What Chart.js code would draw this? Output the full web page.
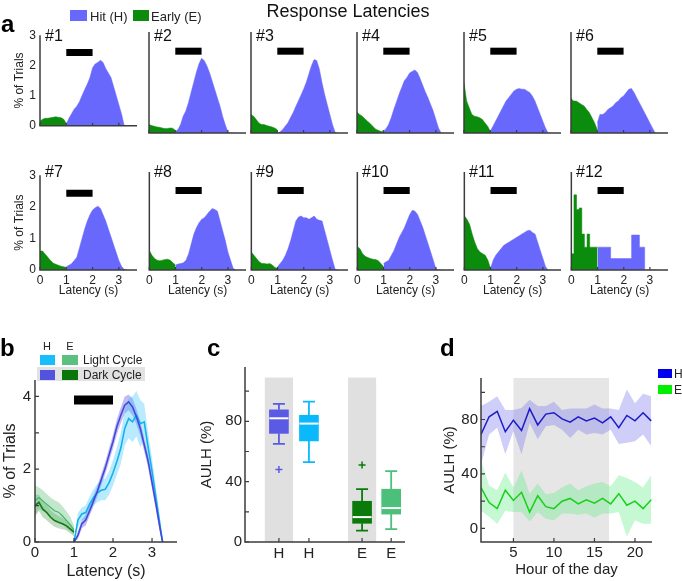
<!DOCTYPE html>
<html><head><meta charset="utf-8">
<script src="https://cdn.jsdelivr.net/npm/chart.js@4.4.1/dist/chart.umd.min.js"></script>
<style>
body{margin:0;background:#fff;font-family:"Liberation Sans",Arial,sans-serif;color:#222}
#fig{position:relative;width:682px;height:581px;overflow:hidden;background:#fff}
.box{position:absolute}
.t{position:absolute;white-space:nowrap;line-height:1;transform:translateY(-50%);z-index:6}
.sw{position:absolute;z-index:5}
</style></head><body><div id="fig"></div>
<script>
// ---- panel a: response latency histograms (12 sessions) ----
const earlyX = [0, 0.1, 0.2, 0.3, 0.4, 0.5, 0.6, 0.7, 0.8, 0.9, 1.0];
const hitX = [1.0, 1.1, 1.2, 1.3, 1.4, 1.5, 1.6, 1.7, 1.8, 1.9, 2.0, 2.1, 2.2, 2.3, 2.4, 2.5, 2.6, 2.7, 2.8, 2.9, 3.0, 3.1, 3.2, 3.3];
const panelNames = ['#1', '#2', '#3', '#4', '#5', '#6', '#7', '#8', '#9', '#10', '#11', '#12'];
const earlyA = [
  [0.15, 0.22, 0.25, 0.25, 0.27, 0.28, 0.3, 0.28, 0.27, 0.22, 0.08],
  [0.25, 0.22, 0.2, 0.18, 0.17, 0.15, 0.13, 0.13, 0.15, 0.14, 0.08],
  [0.55, 0.5, 0.4, 0.3, 0.25, 0.25, 0.22, 0.2, 0.18, 0.15, 0.1],
  [0.62, 0.55, 0.5, 0.42, 0.35, 0.28, 0.2, 0.12, 0.08, 0.05, 0.03],
  [1.5, 0.95, 0.75, 0.55, 0.5, 0.48, 0.45, 0.4, 0.3, 0.2, 0.05],
  [1.02, 0.95, 0.95, 0.9, 0.85, 0.8, 0.7, 0.6, 0.45, 0.3, 0.1],
  [0.6, 0.6, 0.5, 0.4, 0.3, 0.22, 0.18, 0.15, 0.12, 0.1, 0.08],
  [0.6, 0.45, 0.35, 0.3, 0.28, 0.3, 0.32, 0.33, 0.3, 0.22, 0.15],
  [0.55, 0.45, 0.35, 0.25, 0.2, 0.2, 0.18, 0.2, 0.15, 0.08, 0.05],
  [0.72, 0.65, 0.5, 0.42, 0.38, 0.35, 0.33, 0.32, 0.28, 0.2, 0.1],
  [1.66, 1.55, 1.4, 1.1, 0.85, 0.65, 0.55, 0.5, 0.45, 0.3, 0.05],
  [0.5, 2.3, 1.85, 1.9, 1.1, 0.7, 1.1, 0.7, 0.7, 0.7, 0.7]
];
const hitA = [
  [0.05, 0.25, 0.4, 0.55, 0.65, 0.8, 1.0, 1.2, 1.38, 1.6, 1.92, 2.05, 2.1, 2.17, 2.1, 1.9, 1.75, 1.6, 1.3, 1.0, 0.7, 0.4, 0.02, 0],
  [0.05, 0.1, 0.25, 0.5, 0.65, 0.9, 1.2, 1.5, 1.8, 2.05, 2.22, 2.15, 2.0, 1.8, 1.55, 1.3, 1.05, 0.8, 0.5, 0.25, 0.03, 0, 0, 0],
  [0, 0.03, 0.1, 0.2, 0.3, 0.45, 0.6, 0.78, 0.95, 1.12, 1.3, 1.5, 1.75, 2.0, 2.18, 2.15, 1.9, 1.5, 1.15, 0.85, 0.55, 0.25, 0.02, 0],
  [0.05, 0.12, 0.25, 0.45, 0.7, 0.92, 1.15, 1.35, 1.55, 1.65, 1.78, 1.83, 1.87, 1.8, 1.62, 1.42, 1.22, 1.05, 0.85, 0.65, 0.4, 0.15, 0, 0],
  [0.05, 0.2, 0.35, 0.5, 0.65, 0.8, 0.95, 1.05, 1.15, 1.25, 1.3, 1.32, 1.3, 1.3, 1.25, 1.2, 1.1, 0.95, 0.75, 0.55, 0.35, 0.15, 0, 0],
  [0.3, 0.55, 0.55, 0.6, 0.7, 0.75, 0.8, 0.9, 0.95, 1.05, 1.1, 1.2, 1.3, 1.32, 1.2, 1.05, 0.9, 0.75, 0.6, 0.45, 0.3, 0.15, 0, 0],
  [0.1, 0.15, 0.2, 0.3, 0.4, 0.7, 1.0, 1.3, 1.55, 1.75, 1.9, 1.97, 2.02, 1.95, 1.75, 1.55, 1.3, 1.05, 0.8, 0.55, 0.3, 0.12, 0.02, 0],
  [0.15, 0.18, 0.2, 0.22, 0.3, 0.5, 0.8, 1.1, 1.3, 1.45, 1.55, 1.6, 1.7, 1.8, 1.88, 1.85, 1.8, 1.5, 1.2, 0.9, 0.55, 0.3, 0.05, 0],
  [0.1, 0.2, 0.3, 0.45, 0.65, 0.9, 1.2, 1.5, 1.62, 1.65, 1.6, 1.6, 1.55, 1.6, 1.65, 1.55, 1.52, 1.5, 1.2, 0.9, 0.6, 0.3, 0.02, 0],
  [0.2, 0.25, 0.3, 0.45, 0.6, 0.8, 1.0, 1.15, 1.3, 1.5, 1.7, 1.83, 1.8, 1.7, 1.5, 1.3, 1.05, 0.8, 0.55, 0.3, 0.03, 0, 0, 0],
  [0.05, 0.3, 0.45, 0.55, 0.65, 0.75, 0.8, 0.85, 0.9, 0.95, 1.0, 1.05, 1.1, 1.15, 1.2, 1.22, 1.15, 1.1, 0.85, 0.6, 0.35, 0.1, 0, 0],
  [0.7, 0.7, 0.7, 0.7, 0.7, 0.35, 0.35, 0.35, 0.35, 0.35, 0.35, 0.35, 0.35, 1.07, 1.07, 1.07, 0.7, 0.7, 0, 0, 0, 0, 0, 0]
];
const cueX = [1, 2];          // response window bar (s)
const cueYA = 2.43;
const latencyTicks = [0, 1, 2, 3];
const trialTicksA = [0, 1, 2, 3];

// ---- panel b: light vs dark cycle ----
const bEarlyX = [0, 0.1, 0.2, 0.3, 0.4, 0.5, 0.6, 0.7, 0.8, 0.9, 1.0];
const bHitX = [1.0, 1.1, 1.2, 1.3, 1.4, 1.5, 1.6, 1.7, 1.8, 1.9, 2.0, 2.1, 2.2, 2.3, 2.4, 2.5, 2.6, 2.7, 2.8, 2.9, 3.0, 3.1, 3.2, 3.27];
const hitDark = [0, 0.18, 0.5, 0.6, 0.86, 1.13, 1.4, 1.72, 2.03, 2.4, 2.76, 3.17, 3.48, 3.76, 3.85, 3.71, 3.44, 3.12, 2.67, 2.22, 1.63, 1.04, 0.41, 0];
const hitDarkUp = [0, 0.3, 0.62, 0.75, 1.0, 1.28, 1.55, 1.88, 2.2, 2.58, 2.95, 3.38, 3.7, 4.0, 4.05, 3.95, 3.65, 3.3, 2.85, 2.4, 1.8, 1.2, 0.55, 0];
const hitDarkLo = [0, 0.08, 0.38, 0.45, 0.72, 0.98, 1.25, 1.56, 1.86, 2.22, 2.57, 2.96, 3.26, 3.52, 3.62, 3.48, 3.22, 2.92, 2.48, 2.04, 1.46, 0.88, 0.28, 0];
const hitLight = [0, 0.6, 0.77, 0.81, 1.04, 1.22, 1.35, 1.42, 1.45, 1.63, 1.9, 2.22, 2.58, 3.12, 3.39, 3.3, 3.48, 3.25, 3.3, 2.6, 1.95, 1.22, 0.5, 0];
const hitLightUp = [0, 0.8, 0.95, 1.0, 1.25, 1.45, 1.6, 1.7, 1.75, 1.95, 2.25, 2.6, 3.0, 3.6, 3.95, 4.0, 4.15, 3.9, 3.8, 3.0, 2.3, 1.5, 0.7, 0];
const hitLightLo = [0, 0.4, 0.6, 0.62, 0.83, 1.0, 1.1, 1.15, 1.15, 1.3, 1.55, 1.85, 2.15, 2.65, 2.85, 2.75, 2.9, 2.6, 2.85, 2.2, 1.6, 0.95, 0.3, 0];
const earlyDark = [1.0, 1.09, 0.9, 0.81, 0.68, 0.59, 0.54, 0.5, 0.45, 0.36, 0.27];
const earlyDarkUp = [1.3, 1.3, 1.12, 1.02, 0.88, 0.78, 0.72, 0.66, 0.6, 0.5, 0.38];
const earlyDarkLo = [0.7, 0.85, 0.68, 0.6, 0.5, 0.42, 0.38, 0.35, 0.32, 0.24, 0.16];
const earlyLight = [1.13, 1.22, 1.13, 1.04, 0.95, 0.86, 0.82, 0.72, 0.6, 0.48, 0.32];
const earlyLightUp = [1.55, 1.5, 1.42, 1.32, 1.22, 1.15, 1.1, 0.98, 0.85, 0.7, 0.45];
const earlyLightLo = [0.75, 0.9, 0.85, 0.78, 0.7, 0.6, 0.55, 0.48, 0.38, 0.3, 0.2];
const cueYB = 3.9;
const trialTicksB = [0, 1, 2, 3, 4];
const trialLabelsB = [0, 2, 4];

// ---- panel c: AULH box plots ----
const boxPos = [1.13, 2.13, 3.9, 4.87];
const boxLabels = ['H', 'H', 'E', 'E'];
const boxLow = [65, 53, 7.5, 8.5];
const boxQ1 = [72, 67, 12.4, 18.5];
const boxMed = [82, 78.5, 16.5, 22.5];
const boxQ3 = [87.6, 84, 27, 35];
const boxHigh = [91.5, 93, 35, 47];
const outX = [1.13, 3.9];
const outY = [48, 51];
const darkShadeX = [1.13, 3.9];
const aulhTicks = [0, 20, 40, 60, 80, 100];
const aulhLabels = [0, 40, 80];

// ---- panel d: AULH by hour of day ----
const hours = [1, 2, 3, 4, 5, 6, 7, 8, 9, 10, 11, 12, 13, 14, 15, 16, 17, 18, 19, 20, 21, 22];
const hourHit = [69, 82, 86, 71, 79.5, 72, 88, 76, 84, 85, 80.5, 78, 82, 79, 81, 77.5, 82, 74, 83, 79, 85, 79];
const hourHitUp = [90, 93, 97, 87, 87, 88.5, 94.5, 90, 90, 93, 87, 88, 88, 88, 91, 88, 88, 87, 102, 92, 99, 97];
const hourHitLo = [47, 69, 74, 54.5, 71.5, 54.5, 77.5, 65.5, 75, 76, 72.5, 66.5, 72.5, 69, 70, 69, 72.5, 62, 63, 64, 69, 60.5];
const hourEarly = [30, 19, 14.5, 28, 20.5, 26.5, 12, 24, 16, 14.5, 20, 22, 18, 21, 18.5, 22, 18, 25.5, 17, 20, 14.5, 21];
const hourEarlyUp = [50, 31.5, 28, 41, 30, 42.5, 25.5, 33, 25, 26, 30, 33, 28, 31, 33, 34, 31, 39, 37, 34, 30, 39];
const hourEarlyLo = [13, 8.5, 3.5, 13, 12, 12, 5, 12, 7, 6, 11, 11, 10, 11, 8, 11, 11, 12, -6, 6, 3.5, 3.5];
const darkHours = [5, 16.8];
const hourTicks = [5, 10, 15, 20];

// ---- helpers ----
const FONT = '"Liberation Sans", Arial, sans-serif';
const fig = document.getElementById('fig');

function mount(left, top, width, height) {
  const d = document.createElement('div');
  d.className = 'box';
  Object.assign(d.style, { left: left + 'px', top: top + 'px', width: width + 'px', height: height + 'px' });
  const c = document.createElement('canvas');
  d.appendChild(c);
  fig.appendChild(d);
  return c;
}
function text(x, y, str, size, extra) {
  const s = document.createElement('div');
  s.className = 't';
  s.textContent = str;
  s.style.left = x + 'px';
  s.style.top = y + 'px';
  s.style.fontSize = size + 'px';
  if (extra) Object.assign(s.style, extra);
  fig.appendChild(s);
}
function swatch(x, y, w, h, color) {
  const s = document.createElement('div');
  s.className = 'sw';
  Object.assign(s.style, { left: x + 'px', top: y + 'px', width: w + 'px', height: h + 'px', background: color });
  fig.appendChild(s);
}
const xy = (xs, ys) => xs.map((x, i) => ({ x, y: ys[i] }));

function scale(o) {
  const horiz = o.pos === 'bottom';
  return {
    type: 'linear', position: o.pos, min: o.min, max: o.max, offset: false,
    grid: { display: false, drawTicks: false }, border: { display: false },
    ticks: {
      display: o.show !== false, autoSkip: false, maxRotation: 0, padding: o.pad ?? 3,
      color: '#222', font: { family: FONT, size: o.size || 12 },
      callback: o.cb || (v => v)
    },
    title: o.title ? { display: true, text: o.title, color: '#222', padding: 0, font: { family: FONT, size: o.tsize } } : { display: false },
    afterBuildTicks: s => { s.ticks = o.ticks.map(v => ({ value: v })); },
    afterFit: s => { if (horiz) s.height = o.fit; else s.width = o.fit; }
  };
}

// axis lines + inward MATLAB-style ticks
function frame(o) {
  return {
    id: 'frame',
    beforeDatasetsDraw(chart) { if (o.under) o.under(chart); },
    afterDatasetsDraw(chart) {
      const { ctx, chartArea: a, scales } = chart;
      ctx.save();
      if (o.over) o.over(chart);
      ctx.strokeStyle = '#3c3c3c';
      ctx.lineWidth = o.lw || 1.5;
      ctx.beginPath();
      ctx.moveTo(a.left, a.top); ctx.lineTo(a.left, a.bottom); ctx.lineTo(a.right, a.bottom);
      ctx.stroke();
      ctx.lineWidth = 1.2;
      ctx.beginPath();
      const L = o.len || 4;
      if (o.xt) scales.x.ticks.forEach(t => { const p = scales.x.getPixelForValue(t.value); ctx.moveTo(p, a.bottom); ctx.lineTo(p, a.bottom - L); });
      if (o.yt) scales.y.ticks.forEach(t => { const p = scales.y.getPixelForValue(t.value); ctx.moveTo(a.left, p); ctx.lineTo(a.left + L, p); });
      ctx.stroke();
      ctx.restore();
    }
  };
}
function line(data, color, width, extra) {
  return Object.assign({ data, borderColor: color, borderWidth: width, pointRadius: 0, fill: false, tension: 0 }, extra || {});
}
function band(data, color, fill) {
  return { data, borderColor: 'rgba(0,0,0,0)', borderWidth: 0.1, backgroundColor: color, pointRadius: 0, fill, tension: 0 };
}
const common = { responsive: true, maintainAspectRatio: false, animation: false, events: [] };

// ---- panel a ----
const A_COLS = [40, 149, 251, 357, 464, 571];
const A_ROWS = [[32, 133], [172, 270]];
const HIT_BLUE = '#6868fc', EARLY_GREEN = '#0c8c0c';

panelNames.forEach((name, i) => {
  const col = i % 6, row = Math.floor(i / 6);
  const plotL = A_COLS[col], plotT = A_ROWS[row][0], plotB = A_ROWS[row][1];
  const yW = col === 0 ? 28 : 6, xH = row === 1 ? 28 : 4;
  const cv = mount(plotL - yW, plotT - 8, yW + 97 + 6, 8 + (plotB - plotT) + xH);
  new Chart(cv, {
    type: 'line',
    data: {
      datasets: [
        line(xy(cueX, [cueYA, cueYA]), '#000', 7, { borderCapStyle: 'butt' }),
        { data: xy(earlyX, earlyA[i]), backgroundColor: EARLY_GREEN, borderColor: EARLY_GREEN, borderWidth: 0.5, pointRadius: 0, fill: 'origin', stepped: i === 11 },
        { data: xy(hitX, hitA[i]), backgroundColor: HIT_BLUE, borderColor: HIT_BLUE, borderWidth: 0.5, pointRadius: 0, fill: 'origin', stepped: i === 11 }
      ]
    },
    options: Object.assign({}, common, {
      layout: { padding: { top: 8, right: 6, left: 0, bottom: 0 } },
      plugins: { legend: { display: false }, tooltip: { enabled: false } },
      scales: {
        x: scale({ pos: 'bottom', min: 0, max: 3.69, ticks: latencyTicks, show: row === 1, fit: xH, size: 12, pad: 3,
                   title: row === 1 ? 'Latency (s)' : null, tsize: 12 }),
        y: scale({ pos: 'left', min: 0, max: 3, ticks: trialTicksA, show: col === 0, fit: yW, size: 12, pad: 4,
                   title: col === 0 ? '% of Trials' : null, tsize: 12 })
      }
    }),
    plugins: [frame({ xt: true, len: 3 })]
  });
  text(plotL + 5, row === 0 ? 36 : 172, name, 16, { color: '#111' });
});

// ---- panel b ----
{
  const cv = mount(1, 367, 184, 214);
  new Chart(cv, {
    type: 'line',
    data: {
      datasets: [
        line(xy(cueX, [cueYB, cueYB]), '#000', 9, { borderCapStyle: 'butt' }),
        line(xy(bHitX, hitDark), '#4646dc', 1.6),
        line(xy(bHitX, hitLight), '#12b2f2', 1.6),
        line(xy(bEarlyX, earlyDark), '#137a13', 1.6),
        line(xy(bEarlyX, earlyLight), '#46b46a', 1.2),
        band(xy(bHitX, hitLightUp), 'rgba(40,190,250,0.32)', '+1'),
        band(xy(bHitX, hitLightLo), 'rgba(0,0,0,0)', false),
        band(xy(bHitX, hitDarkUp), 'rgba(100,100,232,0.42)', '+1'),
        band(xy(bHitX, hitDarkLo), 'rgba(0,0,0,0)', false),
        band(xy(bEarlyX, earlyLightUp), 'rgba(80,185,110,0.35)', '+1'),
        band(xy(bEarlyX, earlyLightLo), 'rgba(0,0,0,0)', false),
        band(xy(bEarlyX, earlyDarkUp), 'rgba(30,130,40,0.28)', '+1'),
        band(xy(bEarlyX, earlyDarkLo), 'rgba(0,0,0,0)', false)
      ]
    },
    options: Object.assign({}, common, {
      layout: { padding: { top: 10, right: 8, left: 0, bottom: 0 } },
      plugins: { legend: { display: false }, tooltip: { enabled: false } },
      scales: {
        x: scale({ pos: 'bottom', min: 0, max: 3.64, ticks: latencyTicks, fit: 39, size: 15, pad: 2, title: 'Latency (s)', tsize: 16 }),
        y: scale({ pos: 'left', min: 0, max: 4.45, ticks: trialTicksB, fit: 34, size: 15, pad: 4,
                   cb: v => trialLabelsB.includes(v) ? v : '', title: '% of Trials', tsize: 16 })
      }
    }),
    plugins: [frame({ xt: true, yt: true, len: 4 })]
  });
  text(47, 345.5, 'H', 11, { transform: 'translate(-50%,-50%)' });
  text(70, 345.5, 'E', 11, { transform: 'translate(-50%,-50%)' });
  swatch(37, 367, 108, 14, '#e2e2e2');
  swatch(40, 355, 15, 10, '#18bdfc');
  swatch(62, 355, 16, 10, '#5cc080');
  swatch(40, 370, 15, 10, '#5252de');
  swatch(62, 370, 16, 10, '#0a760a');
  text(83, 360, 'Light Cycle', 12);
  text(83, 375, 'Dark Cycle', 12);
}

// ---- panel c ----
{
  const colors = ['#5a5ae4', '#0ab9fb', '#0a7a0a', '#4cbf7a'];
  const cv = mount(198, 355, 215, 209);
  new Chart(cv, {
    type: 'bar',
    data: {
      datasets: [
        { type: 'scatter', data: xy(outX, outY), pointStyle: 'cross', pointRadius: 3.5, borderWidth: 1.5,
          borderColor: [colors[0], colors[2]], backgroundColor: [colors[0], colors[2]] },
        { type: 'bar', data: boxPos.map((x, i) => ({ x, y: [boxQ1[i], boxQ3[i]] })), backgroundColor: colors,
          borderWidth: 0, barThickness: 19, borderSkipped: false }
      ]
    },
    options: Object.assign({}, common, {
      layout: { padding: { top: 10, right: 8, left: 0, bottom: 0 } },
      plugins: { legend: { display: false }, tooltip: { enabled: false } },
      scales: {
        x: scale({ pos: 'bottom', min: 0, max: 5.33, ticks: boxPos, fit: 22, size: 15, pad: 3,
                   cb: (v, i) => boxLabels[i] }),
        y: scale({ pos: 'left', min: 0, max: 116, ticks: aulhTicks, fit: 47, size: 15, pad: 3,
                   cb: v => aulhLabels.includes(v) ? v : '', title: 'AULH (%)', tsize: 15 })
      }
    }),
    plugins: [frame({
      xt: true, yt: true, len: 4,
      under(chart) {
        const { ctx, scales: { x, y } } = chart;
        ctx.save();
        ctx.fillStyle = '#e0e0e0';
        darkShadeX.forEach(c => {
          const l = x.getPixelForValue(c - 0.47), r = x.getPixelForValue(c + 0.47);
          const t = y.getPixelForValue(109), b = y.getPixelForValue(0);
          ctx.fillRect(l, t, r - l, b - t);
        });
        ctx.restore();
      },
      over(chart) {
        const { ctx, scales: { x, y } } = chart;
        boxPos.forEach((c, i) => {
          const px = x.getPixelForValue(c);
          ctx.strokeStyle = colors[i];
          ctx.lineWidth = 1.8;
          ctx.beginPath();
          ctx.moveTo(px, y.getPixelForValue(boxHigh[i])); ctx.lineTo(px, y.getPixelForValue(boxQ3[i]));
          ctx.moveTo(px, y.getPixelForValue(boxQ1[i])); ctx.lineTo(px, y.getPixelForValue(boxLow[i]));
          [boxHigh[i], boxLow[i]].forEach(v => { const py = y.getPixelForValue(v); ctx.moveTo(px - 6, py); ctx.lineTo(px + 6, py); });
          ctx.stroke();
          ctx.strokeStyle = '#fff';
          ctx.lineWidth = 2;
          ctx.beginPath();
          const pm = y.getPixelForValue(boxMed[i]);
          ctx.moveTo(px - 9.5, pm); ctx.lineTo(px + 9.5, pm);
          ctx.stroke();
        });
      }
    })]
  });
}

// ---- panel d ----
{
  const cv = mount(441, 366, 219, 213);
  new Chart(cv, {
    type: 'line',
    data: {
      datasets: [
        line(xy(hours, hourHit), '#1c1cc8', 1.5),
        line(xy(hours, hourEarly), '#18d018', 1.5),
        band(xy(hours, hourHitUp), 'rgba(125,125,240,0.38)', '+1'),
        band(xy(hours, hourHitLo), 'rgba(0,0,0,0)', false),
        band(xy(hours, hourEarlyUp), 'rgba(90,235,130,0.35)', '+1'),
        band(xy(hours, hourEarlyLo), 'rgba(0,0,0,0)', false)
      ]
    },
    options: Object.assign({}, common, {
      layout: { padding: { top: 10, right: 8, left: 0, bottom: 0 } },
      plugins: { legend: { display: false }, tooltip: { enabled: false } },
      scales: {
        x: scale({ pos: 'bottom', min: 1, max: 22.1, ticks: hourTicks, fit: 37, size: 15, pad: 2, title: 'Hour of the day', tsize: 15 }),
        y: scale({ pos: 'left', min: -10, max: 110.5, ticks: aulhTicks, fit: 40, size: 15, pad: 3,
                   cb: v => aulhLabels.includes(v) ? v : '', title: 'AULH (%)', tsize: 15 })
      }
    }),
    plugins: [frame({
      xt: true, yt: true, len: 4,
      under(chart) {
        const { ctx, chartArea: a, scales: { x } } = chart;
        const l = x.getPixelForValue(darkHours[0]), r = x.getPixelForValue(darkHours[1]);
        ctx.save();
        ctx.fillStyle = '#e6e6e6';
        ctx.fillRect(l, a.top, r - l, a.bottom - a.top);
        ctx.restore();
      }
    })]
  });
  swatch(658, 369, 14, 9, '#0000ee');
  swatch(658, 385, 14, 9, '#00ee00');
  text(674, 373.5, 'H', 12);
  text(674, 389.5, 'E', 12);
}

// ---- figure text ----
text(348, 11, 'Response Latencies', 18, { transform: 'translate(-50%,-50%)', color: '#111' });
swatch(70, 10, 17, 11, HIT_BLUE);
text(90, 15.5, 'Hit (H)', 13);
swatch(133, 10, 16, 11, EARLY_GREEN);
text(151, 15.5, 'Early (E)', 13);
const letters = [['a', 1, 24], ['b', 0, 348], ['c', 207, 348], ['d', 440, 348]];
letters.forEach(([s, x, y]) => text(x, y, s, 24, { fontWeight: 'bold', color: '#000' }));
</script></body></html>
